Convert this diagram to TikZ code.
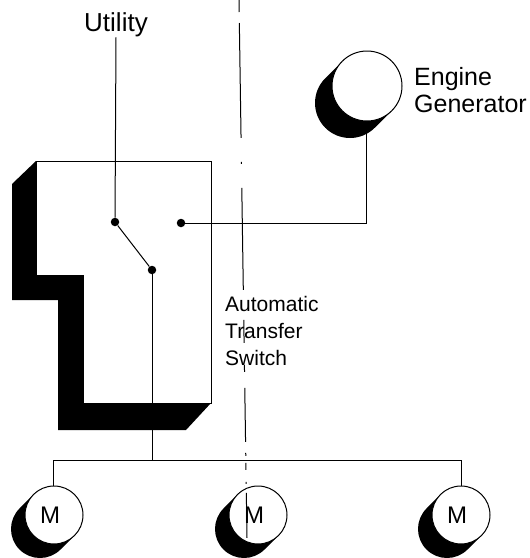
\documentclass[tikz,border=0pt]{standalone}
\usepackage{fontspec}
\setmainfont{Liberation Sans}
\usepackage{tikz}
\usetikzlibrary{backgrounds}

\begin{document}
\begin{tikzpicture}[
    x=1pt, y=-1pt,
    wire/.style={draw, line width=1pt},
    contact/.style={circle, fill=black, inner sep=0pt, minimum size=8.5pt},
    machine/.style={draw, circle, fill=white, line width=1pt, inner sep=0pt},
    blob/.style={line cap=round, color=black},
    caption/.style={font=\fontsize{25}{27}\selectfont, align=left, anchor=west, inner sep=0pt},
    letter/.style={font=\fontsize{24}{27}\selectfont, inner sep=0pt}
]
    \useasboundingbox (0,0) rectangle (530,558);

    % Switch outline
    \draw[fill=white, line width=1pt] (36,161) -- (211,161) -- (211,403) -- (83,403) -- (83,275) -- (36,275) -- cycle;
    \node[caption, font=\fontsize{21}{27}\selectfont] (switchlabel) at (225,331) {Automatic\\Transfer\\Switch};

    % Source and switch contacts
    \node[caption, anchor=center, font=\fontsize{26}{27}\selectfont] (utility) at (116,25) {Utility};
    \node[contact] (poleA) at (115,222) {};
    \node[contact] (poleB) at (181,223) {};
    \node[contact] (common) at (152,270) {};

    % Generator
    \node[machine, minimum size=70pt] (generator) at (367,86) {};
    \node[caption] (genlabel) at (414,90) {Engine\\Generator};

    % Motors
    \node[machine, minimum size=58pt] (motorA) at (54,515) {};
    \node[machine, minimum size=58pt] (motorB) at (258,515) {};
    \node[machine, minimum size=58pt] (motorC) at (461,515) {};
    \node[letter] (letterA) at (50,515) {M};
    \node[letter] (letterB) at (254,515) {M};
    \node[letter] (letterC) at (457,515) {M};

    % Shadows
    \begin{scope}[on background layer]
        \fill (36,161) -- (12,184) -- (12,300) -- (58,300) -- (58,430) -- (186,430) -- (211,403) -- (83,403) -- (83,275) -- (36,275) -- cycle;
        \draw[blob, line width=70pt] (generator.center) -- ++(-17,17);
        \draw[blob, line width=58pt] (motorA.center) -- ++(-14,14);
        \draw[blob, line width=58pt] (motorB.center) -- ++(-14,14);
        \draw[blob, line width=58pt] (motorC.center) -- ++(-14,14);
    \end{scope}

    % Bus coordinates
    \coordinate (busA) at (53,460);
    \coordinate (busS) at (152,460);
    \coordinate (busC) at (461,460);
    \coordinate (corner) at (366,223);

    % Wiring
    \draw[wire] (utility.south) -- (poleA);
    \draw[wire] (poleA) -- (common);
    \draw[wire] (poleB) -- (corner) -- (corner |- generator.south);
    \draw[wire] (common) -- (busS);
    \draw[wire] (busA |- motorA.north) -- (busA) -- (busC) -- (motorC.north);

    % Centre line
    \coordinate (linetop) at (239,0);
    \coordinate (linebottom) at (247,538);
    \draw[line width=1pt, dash pattern=on 12pt off 11pt on 115pt off 24pt on 2pt off 24pt on 102pt off 30pt on 23pt off 22pt on 7pt off 16pt on 54pt off 11pt on 3pt off 7pt on 7pt off 12pt on 2pt off 9pt on 45pt off 40pt] (linetop) -- (linebottom);
\end{tikzpicture}
\end{document}
